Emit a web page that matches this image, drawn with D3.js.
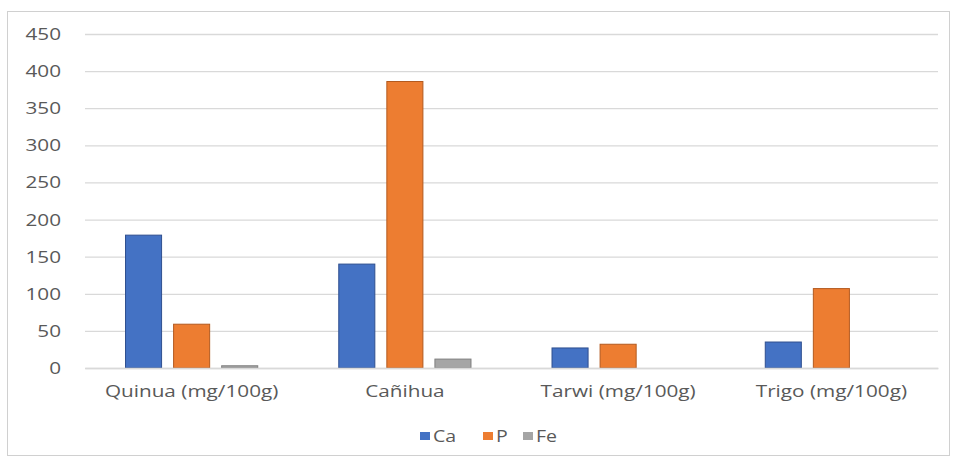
<!DOCTYPE html>
<html><head><meta charset="utf-8">
<script src="https://cdn.jsdelivr.net/npm/d3@7"></script>
<style>body{margin:0;background:#fff}svg{display:block}text{font-family:"Open Sans","Liberation Sans",sans-serif;fill:#595959}</style>
</head><body><svg id="c" width="954" height="459"></svg>
<script>
const categories = ["Quinua (mg/100g)", "Cañihua", "Tarwi (mg/100g)", "Trigo (mg/100g)"];
const seriesNames = ["Ca", "P", "Fe"];
const caValues = [179, 140, 27, 35];
const pValues = [59, 386, 32, 107];
const feValues = [3, 12, 0, 0];
const yTicks = [0, 50, 100, 150, 200, 250, 300, 350, 400, 450];
const colors = ["#4472C4", "#ED7D31", "#A5A5A5"];
const strokes = ["#2F4F8F", "#B35A1F", "#7F7F7F"];

(function () {
const sx = 1.22;
const svg = d3.select("#c");
svg.append("rect").attr("x", 7.5).attr("y", 11.5).attr("width", 942).attr("height", 444)
  .attr("fill", "#fff").attr("stroke", "#d0d0d0");

const pL = 85, pR = 938, pT = 34, pB = 368;
const y = d3.scaleLinear().domain([0, 450]).range([pB, pT]);
const x0 = d3.scaleBand().domain(categories).range([pL, pR]).paddingInner(0.38).paddingOuter(0.19);
const x1 = d3.scaleBand().domain(seriesNames).range([0, x0.bandwidth()]).paddingInner(0.25);

const yAxis = d3.axisLeft(y).tickValues(yTicks).tickSize(-(pR - pL)).tickPadding(24);
const gy = svg.append("g").attr("transform", `translate(${pL},0)`).call(yAxis);
gy.select(".domain").remove();
gy.selectAll(".tick line").attr("stroke", "#d9d9d9").attr("stroke-width", 1.3);
gy.selectAll(".tick text").attr("font-size", 17).attr("fill", "#505050")
  .attr("x", -24 / sx).attr("transform", `scale(${sx},1)`);

const data = [caValues, pValues, feValues];
const groups = svg.append("g");
seriesNames.forEach((s, si) => {
  groups.selectAll(".b" + si).data(categories).enter().append("rect")
    .attr("x", c => x0(c) + x1(s))
    .attr("width", x1.bandwidth())
    .attr("y", (c, i) => y(data[si][i]))
    .attr("height", (c, i) => pB - y(data[si][i]))
    .attr("fill", colors[si]).attr("stroke", strokes[si]).attr("stroke-width", 1);
});

const xAxis = d3.axisBottom(x0).tickSize(0).tickPadding(17);
const gx = svg.append("g").attr("transform", `translate(0,${pB})`).call(xAxis);
gx.select(".domain").attr("stroke", "#d9d9d9").attr("stroke-width", 1.3);
gx.selectAll(".tick text").attr("font-size", 17).attr("fill", "#505050")
  .attr("transform", `scale(${sx},1)`);

const legend = svg.append("g").attr("transform", "translate(420,436)");
const offs = [0, 63, 103];
seriesNames.forEach((s, i) => {
  const g = legend.append("g").attr("transform", `translate(${offs[i]},0)`);
  g.append("rect").attr("x", 0).attr("y", -4).attr("width", 10).attr("height", 8).attr("fill", colors[i]);
  g.append("text").attr("x", 13 / sx).attr("y", 0).attr("dy", "0.35em").attr("font-size", 16)
    .attr("fill", "#505050").attr("transform", `scale(${sx},1)`).text(s);
});
})();
</script></body></html>
